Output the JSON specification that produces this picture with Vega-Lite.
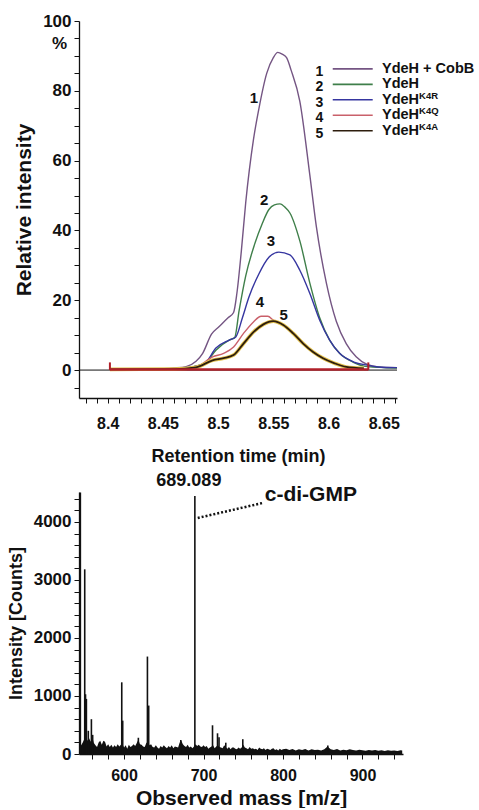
{
  "$schema": "https://vega.github.io/schema/vega-lite/v6.json",
  "padding": {"left": 7, "top": 12, "right": 0, "bottom": 0},
  "spacing": 7,
  "config": {
    "font": "Liberation Sans",
    "view": {"stroke": null},
    "axis": {"grid": false, "labelFontWeight": "bold", "titleFontWeight": "bold", "labelColor": "#111", "titleColor": "#111", "domainColor": "#111", "tickColor": "#111", "domainWidth": 1.3, "tickWidth": 1, "labelBound": false, "labelOverlap": false}
  },
  "datasets": {
    "chrom": [
      {"s":"1","t":8.402,"v":0.2},{"s":"1","t":8.44,"v":0.3},{"s":"1","t":8.46,"v":0.6},{"s":"1","t":8.471,"v":1.0},{"s":"1","t":8.48,"v":2.5},{"s":"1","t":8.486,"v":4.8},{"s":"1","t":8.494,"v":10.3},{"s":"1","t":8.501,"v":12.5},{"s":"1","t":8.509,"v":15},{"s":"1","t":8.514,"v":16.5},{"s":"1","t":8.517,"v":22},{"s":"1","t":8.521,"v":34},{"s":"1","t":8.525,"v":48},{"s":"1","t":8.532,"v":66},{"s":"1","t":8.537,"v":75},{"s":"1","t":8.544,"v":85},{"s":"1","t":8.55,"v":89.5},{"s":"1","t":8.554,"v":91},{"s":"1","t":8.558,"v":90.5},{"s":"1","t":8.562,"v":89.5},{"s":"1","t":8.566,"v":86},{"s":"1","t":8.574,"v":77},{"s":"1","t":8.583,"v":56},{"s":"1","t":8.589,"v":41},{"s":"1","t":8.598,"v":25},{"s":"1","t":8.607,"v":14},{"s":"1","t":8.616,"v":7.6},{"s":"1","t":8.625,"v":3.8},{"s":"1","t":8.635,"v":1.6},{"s":"1","t":8.645,"v":0.9},{"s":"1","t":8.662,"v":0.7},
      {"s":"2","t":8.402,"v":0.2},{"s":"2","t":8.46,"v":0.4},{"s":"2","t":8.478,"v":1.0},{"s":"2","t":8.489,"v":2.2},{"s":"2","t":8.498,"v":5.7},{"s":"2","t":8.51,"v":8.6},{"s":"2","t":8.515,"v":9.3},{"s":"2","t":8.519,"v":17},{"s":"2","t":8.525,"v":27},{"s":"2","t":8.533,"v":36},{"s":"2","t":8.54,"v":42},{"s":"2","t":8.546,"v":46},{"s":"2","t":8.551,"v":47.3},{"s":"2","t":8.556,"v":47.6},{"s":"2","t":8.561,"v":46.5},{"s":"2","t":8.565,"v":45},{"s":"2","t":8.574,"v":37},{"s":"2","t":8.583,"v":25},{"s":"2","t":8.592,"v":15},{"s":"2","t":8.601,"v":8.6},{"s":"2","t":8.61,"v":4.8},{"s":"2","t":8.622,"v":2.3},{"s":"2","t":8.635,"v":1.0},{"s":"2","t":8.662,"v":0.6},
      {"s":"3","t":8.402,"v":0.2},{"s":"3","t":8.46,"v":0.4},{"s":"3","t":8.478,"v":1.0},{"s":"3","t":8.489,"v":2.3},{"s":"3","t":8.498,"v":6.3},{"s":"3","t":8.51,"v":8.6},{"s":"3","t":8.516,"v":9.5},{"s":"3","t":8.522,"v":15},{"s":"3","t":8.528,"v":21},{"s":"3","t":8.537,"v":27.6},{"s":"3","t":8.546,"v":32.3},{"s":"3","t":8.555,"v":33.8},{"s":"3","t":8.565,"v":33},{"s":"3","t":8.574,"v":28.6},{"s":"3","t":8.583,"v":22},{"s":"3","t":8.592,"v":14.3},{"s":"3","t":8.601,"v":8.6},{"s":"3","t":8.61,"v":4.8},{"s":"3","t":8.623,"v":2.3},{"s":"3","t":8.635,"v":1.4},{"s":"3","t":8.645,"v":0.9},{"s":"3","t":8.662,"v":0.7},
      {"s":"4","t":8.402,"v":0.2},{"s":"4","t":8.46,"v":0.3},{"s":"4","t":8.48,"v":0.9},{"s":"4","t":8.495,"v":3.8},{"s":"4","t":8.505,"v":4.8},{"s":"4","t":8.514,"v":6.6},{"s":"4","t":8.523,"v":10.5},{"s":"4","t":8.532,"v":13.8},{"s":"4","t":8.539,"v":15.4},{"s":"4","t":8.545,"v":15.4},{"s":"4","t":8.55,"v":14.3},{"s":"4","t":8.559,"v":13.0},{"s":"4","t":8.568,"v":10.6},{"s":"4","t":8.577,"v":7.7},{"s":"4","t":8.586,"v":5.3},{"s":"4","t":8.595,"v":3.5},{"s":"4","t":8.605,"v":2.1},{"s":"4","t":8.616,"v":1.0},{"s":"4","t":8.632,"v":0.5},
      {"s":"5","t":8.402,"v":0.2},{"s":"5","t":8.46,"v":0.3},{"s":"5","t":8.48,"v":0.8},{"s":"5","t":8.495,"v":2.8},{"s":"5","t":8.505,"v":3.4},{"s":"5","t":8.514,"v":4.3},{"s":"5","t":8.523,"v":7.6},{"s":"5","t":8.532,"v":10.9},{"s":"5","t":8.541,"v":13.1},{"s":"5","t":8.55,"v":14},{"s":"5","t":8.559,"v":12.9},{"s":"5","t":8.568,"v":10.5},{"s":"5","t":8.577,"v":7.6},{"s":"5","t":8.586,"v":5.2},{"s":"5","t":8.595,"v":3.4},{"s":"5","t":8.605,"v":2.0},{"s":"5","t":8.616,"v":0.9},{"s":"5","t":8.632,"v":0.5}
    ],
    "clabels": [
      {"n":"1","t":8.5325,"v":78},{"n":"2","t":8.5418,"v":48.6},{"n":"3","t":8.5479,"v":37.1},{"n":"4","t":8.5379,"v":19.4},{"n":"5","t":8.5594,"v":15.7}
    ],
    "legend": [
      {"n":1,"s":"1","name":"YdeH + CobB","sup":""},
      {"n":2,"s":"2","name":"YdeH","sup":""},
      {"n":3,"s":"3","name":"YdeH","sup":"K4R"},
      {"n":4,"s":"4","name":"YdeH","sup":"K4Q"},
      {"n":5,"s":"5","name":"YdeH","sup":"K4A"}
    ],
    "noise": [
      {"mz":544,"c":180},{"mz":546,"c":150},{"mz":548,"c":200},{"mz":550,"c":260},{"mz":552,"c":300},{"mz":554,"c":230},{"mz":556,"c":270},{"mz":558,"c":210},{"mz":560,"c":290},{"mz":562,"c":190},{"mz":564,"c":150},{"mz":566,"c":120},{"mz":568,"c":200},{"mz":570,"c":230},{"mz":572,"c":160},{"mz":574,"c":230},{"mz":576,"c":210},{"mz":578,"c":130},{"mz":580,"c":170},{"mz":582,"c":120},{"mz":584,"c":160},{"mz":586,"c":110},{"mz":588,"c":150},{"mz":590,"c":120},{"mz":592,"c":170},{"mz":594,"c":130},{"mz":596,"c":160},{"mz":598,"c":170},{"mz":600,"c":110},{"mz":602,"c":150},{"mz":604,"c":90},{"mz":606,"c":160},{"mz":608,"c":120},{"mz":610,"c":140},{"mz":612,"c":170},{"mz":614,"c":140},{"mz":616,"c":190},{"mz":618,"c":250},{"mz":620,"c":170},{"mz":622,"c":160},{"mz":624,"c":130},{"mz":626,"c":120},{"mz":628,"c":190},{"mz":630,"c":210},{"mz":632,"c":150},{"mz":634,"c":170},{"mz":636,"c":120},{"mz":638,"c":110},{"mz":640,"c":150},{"mz":642,"c":110},{"mz":644,"c":90},{"mz":646,"c":140},{"mz":648,"c":110},{"mz":650,"c":150},{"mz":652,"c":120},{"mz":654,"c":100},{"mz":656,"c":140},{"mz":658,"c":110},{"mz":660,"c":150},{"mz":662,"c":100},{"mz":664,"c":130},{"mz":666,"c":120},{"mz":668,"c":110},{"mz":670,"c":200},{"mz":672,"c":230},{"mz":674,"c":170},{"mz":676,"c":140},{"mz":678,"c":120},{"mz":680,"c":160},{"mz":682,"c":110},{"mz":684,"c":130},{"mz":686,"c":100},{"mz":688,"c":130},{"mz":690,"c":170},{"mz":692,"c":140},{"mz":694,"c":160},{"mz":696,"c":130},{"mz":698,"c":120},{"mz":700,"c":150},{"mz":702,"c":120},{"mz":704,"c":140},{"mz":706,"c":90},{"mz":708,"c":110},{"mz":710,"c":130},{"mz":712,"c":150},{"mz":714,"c":100},{"mz":716,"c":130},{"mz":718,"c":150},{"mz":720,"c":120},{"mz":722,"c":110},{"mz":724,"c":100},{"mz":726,"c":150},{"mz":728,"c":120},{"mz":730,"c":90},{"mz":732,"c":120},{"mz":734,"c":80},{"mz":736,"c":110},{"mz":738,"c":110},{"mz":740,"c":90},{"mz":742,"c":80},{"mz":744,"c":110},{"mz":746,"c":90},{"mz":748,"c":110},{"mz":750,"c":160},{"mz":752,"c":110},{"mz":754,"c":100},{"mz":756,"c":80},{"mz":758,"c":120},{"mz":760,"c":90},{"mz":762,"c":100},{"mz":764,"c":80},{"mz":766,"c":90},{"mz":768,"c":70},{"mz":770,"c":110},{"mz":772,"c":90},{"mz":774,"c":80},{"mz":776,"c":100},{"mz":778,"c":70},{"mz":780,"c":90},{"mz":782,"c":80},{"mz":784,"c":70},{"mz":786,"c":90},{"mz":788,"c":100},{"mz":790,"c":70},{"mz":792,"c":80},{"mz":794,"c":60},{"mz":796,"c":90},{"mz":798,"c":70},{"mz":800,"c":80},{"mz":804,"c":90},{"mz":808,"c":70},{"mz":812,"c":85},{"mz":816,"c":60},{"mz":820,"c":80},{"mz":824,"c":70},{"mz":828,"c":85},{"mz":832,"c":60},{"mz":836,"c":80},{"mz":840,"c":70},{"mz":844,"c":75},{"mz":848,"c":60},{"mz":852,"c":80},{"mz":856,"c":130},{"mz":860,"c":80},{"mz":864,"c":70},{"mz":868,"c":85},{"mz":872,"c":60},{"mz":876,"c":75},{"mz":880,"c":65},{"mz":884,"c":80},{"mz":888,"c":70},{"mz":892,"c":60},{"mz":896,"c":75},{"mz":900,"c":65},{"mz":904,"c":55},{"mz":908,"c":70},{"mz":912,"c":60},{"mz":916,"c":70},{"mz":920,"c":55},{"mz":924,"c":65},{"mz":928,"c":50},{"mz":932,"c":65},{"mz":936,"c":55},{"mz":940,"c":60},{"mz":944,"c":50},{"mz":948,"c":65},{"mz":950,"c":60}
    ],
    "peaks": [
      {"mz":545,"c":4510},{"mz":550.5,"c":3184},{"mz":551.5,"c":1030},{"mz":552.6,"c":950},{"mz":555,"c":400},{"mz":558.9,"c":600},{"mz":560.5,"c":330},{"mz":597.1,"c":1236},{"mz":598.3,"c":575},{"mz":618,"c":280},{"mz":629.4,"c":1680},{"mz":631,"c":835},{"mz":671.4,"c":240},{"mz":689.089,"c":4448},{"mz":711.3,"c":495},{"mz":717.6,"c":357},{"mz":719.5,"c":290},{"mz":728,"c":195},{"mz":749.4,"c":255},{"mz":856.4,"c":145}
    ]
  },
  "vconcat": [
    {
      "width": 318,
      "height": 377,
      "resolve": {"scale": {"y": "independent"}},
      "layer": [
        {
          "layer": [
            {
              "data": {"values": [{}]},
              "mark": {"type": "rule", "color": "#111", "strokeWidth": 1},
              "encoding": {"y": {"datum": 0}}
            },
            {
              "data": {"name": "chrom"},
              "transform": [{"filter": "datum.s !== '5'"}],
              "mark": {"type": "line", "strokeWidth": 1.4, "interpolate": "monotone"},
              "encoding": {
                "x": {"field": "t", "type": "quantitative", "scale": {"domain": [8.374, 8.662], "nice": false, "zero": false},
                  "axis": {"title": "Retention time (min)", "titleFontSize": 18, "labelFontSize": 16, "tickSize": 5, "labelPadding": 12, "titlePadding": 16, "tickCount": 1000,
                    "values": [8.38,8.39,8.4,8.41,8.42,8.43,8.44,8.45,8.46,8.47,8.48,8.49,8.5,8.51,8.52,8.53,8.54,8.55,8.56,8.57,8.58,8.59,8.6,8.61,8.62,8.63,8.64,8.65,8.66],
                    "labelExpr": "round(datum.value*100) % 5 === 0 ? format(datum.value, '~g') : ''"}},
                "y": {"field": "v", "type": "quantitative", "scale": {"domain": [-8, 100], "nice": false, "zero": false},
                  "axis": {"title": "Relative intensity", "titleFontSize": 21, "labelFontSize": 17, "tickSize": 5, "titlePadding": 8, "labelPadding": 3, "tickCount": 1000,
                    "values": [-5,0,5,10,15,20,25,30,35,40,45,50,55,60,65,70,75,80,85,90,95,100],
                    "labelExpr": "datum.value % 20 === 0 ? format(datum.value, 'd') : ''"}},
                "color": {"field": "s", "type": "nominal", "legend": null,
                  "scale": {"domain": ["1","2","3","4","5"], "range": ["#745583", "#3f7f4a", "#3636a0", "#c9606a", "#2d1d0d"]}}
              }
            },
            {
              "data": {"name": "chrom"},
              "transform": [{"filter": "datum.s === '5'"}],
              "mark": {"type": "line", "color": "#e3c24e", "strokeWidth": 3.6, "interpolate": "monotone"},
              "encoding": {"x": {"field": "t", "type": "quantitative"}, "y": {"field": "v", "type": "quantitative"}}
            },
            {
              "data": {"name": "chrom"},
              "transform": [{"filter": "datum.s === '5'"}],
              "mark": {"type": "line", "strokeWidth": 1.8, "interpolate": "monotone"},
              "encoding": {"x": {"field": "t", "type": "quantitative"}, "y": {"field": "v", "type": "quantitative"}, "color": {"field": "s", "type": "nominal", "legend": null}}
            },
            {
              "data": {"values": [{}]},
              "mark": {"type": "rule", "color": "#b0202a", "strokeWidth": 2.5},
              "encoding": {"x": {"datum": 8.402}, "x2": {"datum": 8.636}, "y": {"datum": 0.2}}
            },
            {
              "data": {"values": [{"t": 8.402}, {"t": 8.636}]},
              "mark": {"type": "rule", "color": "#b0202a", "strokeWidth": 2},
              "encoding": {"x": {"field": "t", "type": "quantitative"}, "y": {"datum": 0}, "y2": {"datum": 2.2}}
            },
            {
              "data": {"name": "clabels"},
              "mark": {"type": "text", "fontSize": 15, "fontWeight": "bold", "color": "#111", "align": "center", "baseline": "middle"},
              "encoding": {"x": {"field": "t", "type": "quantitative"}, "y": {"field": "v", "type": "quantitative"}, "text": {"field": "n", "type": "nominal"}}
            },
            {
              "data": {"values": [{"label": "%"}]},
              "mark": {"type": "text", "fontSize": 17, "fontWeight": "bold", "color": "#111", "align": "right", "baseline": "middle", "dx": -12},
              "encoding": {"x": {"datum": 8.374}, "y": {"datum": 93.4}, "text": {"field": "label", "type": "nominal"}}
            }
          ]
        },
        {
          "data": {"name": "legend"},
          "layer": [
            {
              "mark": {"type": "rule", "strokeWidth": 1.6},
              "encoding": {
                "x": {"datum": 8.6038}, "x2": {"datum": 8.640},
                "y": {"field": "n", "type": "quantitative", "scale": {"domain": [-2.097, 22.29], "reverse": true, "nice": false, "zero": false}, "axis": null},
                "color": {"field": "s", "type": "nominal", "legend": null}
              }
            },
            {
              "mark": {"type": "text", "fontSize": 14, "fontWeight": "bold", "color": "#111", "align": "center", "baseline": "middle", "dy": 3},
              "encoding": {"x": {"datum": 8.5916}, "y": {"field": "n", "type": "quantitative"}, "text": {"field": "n", "type": "nominal"}}
            },
            {
              "mark": {"type": "text", "fontSize": 14.5, "fontWeight": "bold", "color": "#111", "align": "left", "baseline": "middle"},
              "encoding": {"x": {"datum": 8.6484}, "y": {"field": "n", "type": "quantitative"}, "text": {"field": "name", "type": "nominal"}}
            },
            {
              "mark": {"type": "text", "fontSize": 9.5, "fontWeight": "bold", "color": "#111", "align": "left", "baseline": "middle", "dy": -4},
              "encoding": {"x": {"datum": 8.682}, "y": {"field": "n", "type": "quantitative"}, "text": {"field": "sup", "type": "nominal"}}
            }
          ]
        }
      ]
    },
    {
      "width": 324,
      "height": 262,
      "layer": [
        {
          "data": {"name": "noise"},
          "mark": {"type": "area", "color": "#111", "interpolate": "linear"},
          "encoding": {
            "x": {"field": "mz", "type": "quantitative", "scale": {"domain": [543.3, 951], "nice": false, "zero": false},
              "axis": {"title": "Observed mass [m/z]", "titleFontSize": 21, "labelFontSize": 16, "labelPadding": 8, "titlePadding": 4, "tickSize": 5, "tickCount": 1000,
                "values": [560,580,600,620,640,660,680,700,720,740,760,780,800,820,840,860,880,900,920,940],
                "labelExpr": "datum.value % 100 === 0 ? format(datum.value, 'd') : ''"}},
            "y": {"field": "c", "type": "quantitative", "scale": {"domain": [0, 4517], "nice": false},
              "axis": {"title": "Intensity [Counts]", "titleFontSize": 18, "labelFontSize": 17, "tickSize": 5, "labelPadding": 3, "titlePadding": 8, "tickCount": 1000,
                "values": [0,200,400,600,800,1000,1200,1400,1600,1800,2000,2200,2400,2600,2800,3000,3200,3400,3600,3800,4000,4200,4400],
                "labelExpr": "datum.value % 1000 === 0 ? format(datum.value, 'd') : ''"}}
          }
        },
        {
          "data": {"name": "peaks"},
          "mark": {"type": "rule", "color": "#111", "strokeWidth": 1.6},
          "encoding": {"x": {"field": "mz", "type": "quantitative"}, "y": {"field": "c", "type": "quantitative"}, "y2": {"datum": 0}}
        },
        {
          "data": {"values": [{}]},
          "mark": {"type": "rule", "color": "#111", "strokeWidth": 2.5, "strokeDash": [2, 2]},
          "encoding": {"x": {"datum": 692.7}, "x2": {"datum": 774.4}, "y": {"datum": 4069}, "y2": {"datum": 4328}}
        },
        {
          "data": {"name": "peaks"},
          "transform": [{"filter": "datum.mz === 689.089"}],
          "mark": {"type": "text", "fontSize": 18, "fontWeight": "bold", "color": "#111", "align": "center", "baseline": "bottom", "dx": -6, "dy": -6},
          "encoding": {"x": {"field": "mz", "type": "quantitative"}, "y": {"field": "c", "type": "quantitative"}, "text": {"field": "mz", "type": "quantitative", "format": ".3f"}}
        },
        {
          "data": {"values": [{"label": "c-di-GMP"}]},
          "mark": {"type": "text", "fontSize": 21, "fontWeight": "bold", "color": "#111", "align": "left", "baseline": "middle"},
          "encoding": {"x": {"datum": 777}, "y": {"datum": 4471}, "text": {"field": "label", "type": "nominal"}}
        }
      ]
    }
  ]
}
